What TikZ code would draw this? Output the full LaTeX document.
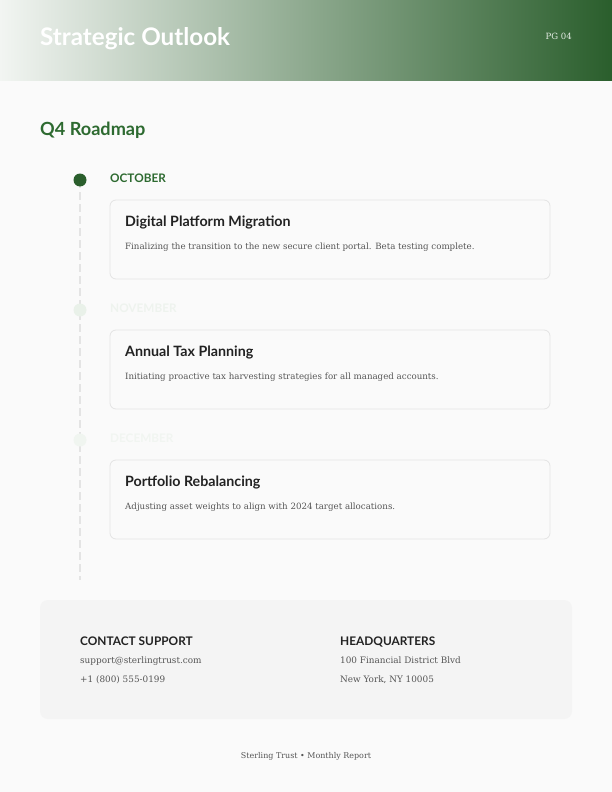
\documentclass[tikz,border=0pt]{standalone}
\usepackage{fontspec}
\setmainfont{DejaVu Serif}
\newfontfamily\lato{Lato}
\usetikzlibrary{calc}

\definecolor{pagebg}{HTML}{FAFAFA}
\definecolor{headlight}{HTML}{F2F5F2}
\definecolor{leafgreen}{HTML}{2D6A30}
\definecolor{darkgreen}{HTML}{2A5E2C}
\definecolor{palegreen}{HTML}{E9F1E9}
\definecolor{fadedtext}{HTML}{EEF3EE}
\definecolor{pagenocol}{HTML}{E4ECE4}
\definecolor{cardline}{HTML}{E4E4E4}
\definecolor{panelbg}{HTML}{F4F4F4}
\definecolor{inktext}{HTML}{222222}
\definecolor{softtext}{HTML}{555555}

\tikzset{
  monthlabel/.style={anchor=base west, font=\lato\bfseries\fontsize{11.8}{14}\selectfont},
  cardbox/.style={draw=cardline, fill=pagebg, rounded corners=6bp, line width=0.8bp},
  cardtitle/.style={anchor=base west, text=inktext, font=\lato\bfseries\fontsize{14.3}{17}\selectfont},
  carddesc/.style={anchor=base west, text=softtext, font=\fontsize{8.7}{10}\selectfont},
  infohead/.style={anchor=base west, text=inktext, font=\lato\bfseries\fontsize{11.9}{14}\selectfont},
  infoline/.style={anchor=base west, text=softtext, font=\fontsize{8.9}{10}\selectfont}
}

\begin{document}
\begin{tikzpicture}[x=1bp, y=-1bp]
  % page
  \fill[pagebg] (0,0) rectangle (612,792);
  \useasboundingbox (0,0) rectangle (612,792);

  % header band
  \shade[left color=headlight, right color=darkgreen] (0,0) rectangle (612,80);
  \node[anchor=base west, text=white, font=\lato\bfseries\fontsize{24.3}{28}\selectfont, inner sep=0] (title) at (40,46) {Strategic Outlook};
  \node[anchor=base east, text=pagenocol, font=\fontsize{8.6}{10}\selectfont, inner sep=0] (pageno) at (572,40) {PG 04};

  % section heading
  \node[anchor=base west, text=leafgreen, font=\lato\bfseries\fontsize{18.2}{21}\selectfont, inner sep=0] (roadmap) at (40,135) {Q4 Roadmap};

  % timeline
  \coordinate (tlend) at (80,580);
  \draw[cardline, line width=2bp, dash pattern=on 8bp off 4bp] (80,180) -- (tlend);
  \fill[darkgreen] (80,180) circle (6.5bp) node[inner sep=0] (dotoct) {};
  \fill[palegreen] (80,310) circle (6.5bp) node[inner sep=0] (dotnov) {};
  \fill[palegreen!60!pagebg] (80,440) circle (6.5bp) node[inner sep=0] (dotdec) {};

  % months
  \node[monthlabel, text=leafgreen, inner sep=0] (oct) at (110,182.5) {OCTOBER};
  \node[monthlabel, text=fadedtext, inner sep=0] (nov) at (110,312.5) {NOVEMBER};
  \node[monthlabel, text=fadedtext!70!pagebg, inner sep=0] (dec) at (110,442.5) {DECEMBER};

  % cards
  \draw[cardbox] (110,200) rectangle (550,279);
  \node[cardtitle, inner sep=0] (card1) at (125,226) {Digital Platform Migration};
  \node[carddesc, inner sep=0] (desc1) at (125,249.5) {Finalizing the transition to the new secure client portal. Beta testing complete.};

  \draw[cardbox] (110,330) rectangle (550,409);
  \node[cardtitle, inner sep=0] (card2) at (125,356) {Annual Tax Planning};
  \node[carddesc, inner sep=0] (desc2) at (125,379.5) {Initiating proactive tax harvesting strategies for all managed accounts.};

  \draw[cardbox] (110,460) rectangle (550,539);
  \node[cardtitle, inner sep=0] (card3) at (125,486) {Portfolio Rebalancing};
  \node[carddesc, inner sep=0] (desc3) at (125,509.5) {Adjusting asset weights to align with 2024 target allocations.};

  % contact panel
  \fill[panelbg, rounded corners=8bp] (40,600) rectangle (572,719);
  \node[infohead, inner sep=0] (support) at (80,645.5) {CONTACT SUPPORT};
  \node[infoline, inner sep=0] (email) at (80,663.5) {support@sterlingtrust.com};
  \node[infoline, inner sep=0] (phone) at (80,682.5) {+1 (800) 555-0199};
  \node[infohead, inner sep=0] (hq) at (340,645.5) {HEADQUARTERS};
  \node[infoline, inner sep=0] (street) at (340,663.5) {100 Financial District Blvd};
  \node[infoline, inner sep=0] (city) at (340,682.5) {New York, NY 10005};

  % footer
  \node[anchor=base, text=softtext, font=\fontsize{8}{9}\selectfont, inner sep=0] (footer) at (306,758.5) {Sterling Trust \textbullet\ Monthly Report};
\end{tikzpicture}
\end{document}
